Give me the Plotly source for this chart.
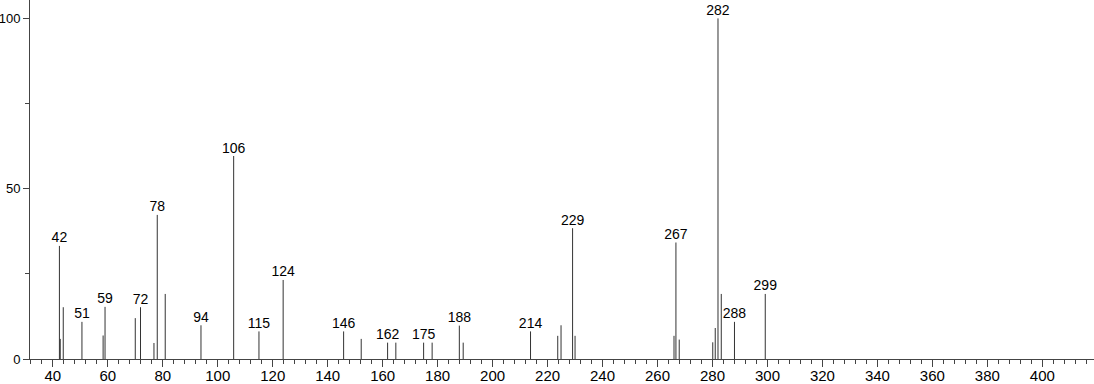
import plotly.graph_objects as go

# m/z values and relative intensities
mz = [42.4, 42.7, 43.8, 50.6, 58.3, 59.0, 70.0, 71.9, 76.8, 78.0, 80.9, 93.9,
      105.8, 115.0, 123.8, 145.8, 152.2, 161.8, 164.8, 174.9, 178.0, 187.9,
      189.3, 213.8, 223.7, 224.9, 229.1, 230.0, 266.0, 266.7, 267.9, 280.1,
      281.0, 282.0, 283.2, 288.0, 299.2]
intensity = [33.2, 5.9, 15.2, 10.9, 6.9, 15.3, 12.0, 15.2, 4.7, 42.3, 19.1, 9.9,
             59.6, 8.1, 23.2, 8.1, 5.9, 4.8, 4.8, 4.8, 4.8, 9.8,
             4.8, 8.1, 6.8, 9.9, 38.4, 6.8, 6.8, 34.2, 5.7, 4.9,
             9.1, 100.0, 19.1, 10.9, 19.1]
peak_labels = ["42", "", "", "51", "", "59", "", "72", "", "78", "", "94",
               "106", "115", "124", "146", "", "162", "", "175", "", "188",
               "", "214", "", "", "229", "", "", "267", "", "",
               "", "282", "", "288", "299"]

xs, ys = [], []
for m, i in zip(mz, intensity):
    xs += [m, m, None]
    ys += [0, i, None]

lab_x = [m for m, t in zip(mz, peak_labels) if t]
lab_y = [i for i, t in zip(intensity, peak_labels) if t]
lab_t = [t for t in peak_labels if t]

FONT = "Liberation Sans, Arial, sans-serif"

fig = go.Figure()
fig.add_trace(go.Scatter(x=xs, y=ys, mode="lines",
                         line=dict(color="#333333", width=1),
                         hoverinfo="skip", showlegend=False))
fig.add_trace(go.Scatter(x=lab_x, y=lab_y, mode="text", text=lab_t,
                         textposition="top center",
                         textfont=dict(family=FONT, size=14, color="#000000"),
                         cliponaxis=False, showlegend=False))

fig.update_layout(
    width=1094, height=384,
    margin=dict(l=30, r=0, t=0, b=25, autoexpand=False),
    paper_bgcolor="white", plot_bgcolor="white",
    xaxis=dict(range=[31.7, 418.8], tickmode="linear", tick0=40, dtick=20,
               automargin=False, ticklabelstandoff=-4,
               ticks="outside", ticklen=7, tickcolor="#444444", tickwidth=1,
               showline=True, linecolor="#444444", linewidth=1,
               showgrid=False, zeroline=False,
               tickfont=dict(family=FONT, size=15, color="#000000"),
               minor=dict(tickmode="linear", tick0=40, dtick=4, ticks="outside",
                          ticklen=4, tickcolor="#444444", showgrid=False)),
    yaxis=dict(range=[0, 105.4], tickmode="linear", tick0=0, dtick=50,
               automargin=False,
               ticks="outside", ticklen=6, tickcolor="#444444", tickwidth=1,
               showline=True, linecolor="#444444", linewidth=1,
               showgrid=False, zeroline=False, ticklabelstandoff=0,
               tickfont=dict(family=FONT, size=13, color="#000000"),
               minor=dict(tickmode="linear", tick0=0, dtick=25, ticks="outside",
                          ticklen=4, tickcolor="#444444", showgrid=False)),
)

fig.write_html("out.html")
